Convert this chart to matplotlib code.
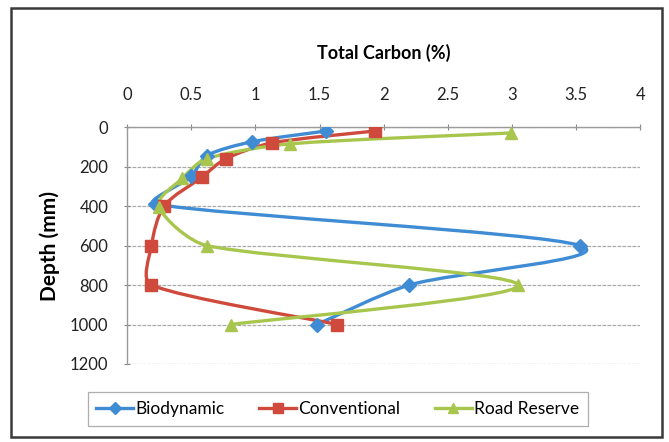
import numpy as np
import matplotlib
matplotlib.use("Agg")
import matplotlib.pyplot as plt
from matplotlib.path import Path
from matplotlib.patches import PathPatch, Rectangle
from matplotlib.lines import Line2D

plt.rcParams['font.family'] = ['Lato', 'DejaVu Sans']

# data: total carbon (%) against depth (mm)
bio_carbon = [1.55, 0.97, 0.62, 0.50, 0.22, 3.53, 2.20, 1.48]
bio_depth = [20, 75, 145, 250, 390, 600, 800, 1000]
conv_carbon = [1.93, 1.13, 0.77, 0.58, 0.29, 0.19, 0.19, 1.64]
conv_depth = [20, 80, 160, 255, 400, 600, 800, 1000]
road_carbon = [2.99, 1.27, 0.62, 0.43, 0.25, 0.62, 3.05, 0.81]
road_depth = [30, 85, 160, 260, 405, 600, 800, 1000]

series_names = ['Biodynamic', 'Conventional', 'Road Reserve']
x_ticks = [0, 0.5, 1, 1.5, 2, 2.5, 3, 3.5, 4]
y_ticks = [0, 200, 400, 600, 800, 1000, 1200]

colors = ['#3F8CD4', '#CF4A3C', '#A8C64E']
markers = ['D', 's', '^']
msizes = [7.5, 9, 9]


def smooth_path(xs, ys, sx=128.0, sy=0.1975, k=0.3):
    # Excel style smoothed line: Catmull-Rom Bezier segments, with the control
    # arms clipped to a share of the segment length (screen-like units)
    pts = np.column_stack([np.asarray(xs) * sx, np.asarray(ys) * sy])
    n = len(pts)
    verts = [pts[0]]
    codes = [Path.MOVETO]

    def arm(i, L):
        a = pts[max(i - 1, 0)]
        b = pts[min(i + 1, n - 1)]
        v = (b - a) / 6.0
        ln = np.hypot(*v)
        if ln > k * L:
            v = v * (k * L / ln)
        return v

    for i in range(n - 1):
        p1, p2 = pts[i], pts[i + 1]
        L = np.hypot(*(p2 - p1))
        verts += [p1 + arm(i, L), p2 - arm(i + 1, L), p2]
        codes += [Path.CURVE4] * 3
    verts = np.array(verts) / [sx, sy]
    return Path(verts, codes)


fig = plt.figure(figsize=(6.69, 4.42), dpi=100)
ax = fig.add_axes([0.190, 0.1765, 0.767, 0.536])

data = [(bio_carbon, bio_depth), (conv_carbon, conv_depth), (road_carbon, road_depth)]
handles = []
for (xs, ys), c, m, ms, name in zip(data, colors, markers, msizes, series_names):
    ax.add_patch(PathPatch(smooth_path(xs, ys), facecolor='none', edgecolor=c,
                           lw=2.4, capstyle='round', joinstyle='round', zorder=3))
    ax.plot(xs, ys, linestyle='none', marker=m, markersize=ms, color=c, zorder=4)
    handles.append(Line2D([], [], color=c, lw=2.4, marker=m, markersize=ms * 0.8, label=name))

ax.set_xlim(0, 4)
ax.set_ylim(1200, 0)
ax.xaxis.tick_top()
ax.set_xticks(x_ticks)
ax.set_xticklabels(['0', '0.5', '1', '1.5', '2', '2.5', '3', '3.5', '4'])
ax.set_yticks(y_ticks)
ax.tick_params(axis='x', direction='inout', length=5, color='#888888', labelsize=12,
               labelcolor='#222222', pad=15)
ax.tick_params(axis='y', direction='inout', length=5, color='#888888', labelsize=12,
               labelcolor='#222222', pad=11)

for s in ['right', 'bottom']:
    ax.spines[s].set_visible(False)
for s in ['top', 'left']:
    ax.spines[s].set_color('#9a9a9a')
    ax.spines[s].set_linewidth(1.0)

ax.grid(True, axis='y', color='#a8a8a8', lw=0.9, linestyle=(0, (3, 1)))
ax.set_axisbelow(True)

ax.set_xlabel('Total Carbon (%)', fontsize=13, fontweight='bold', labelpad=20)
ax.xaxis.set_label_position('top')
ax.set_ylabel('Depth (mm)', fontsize=15, fontweight='bold', labelpad=7)

leg = fig.legend(handles=handles, loc='center', bbox_to_anchor=(0.505, 0.075), ncol=3,
                 fontsize=12.5, frameon=True, fancybox=False, handlelength=2.1,
                 columnspacing=2.0, handletextpad=0.15, borderpad=0.5)
leg.get_frame().set_edgecolor('#9a9a9a')
leg.get_frame().set_linewidth(0.9)

# outer chart border
fig.patches.append(Rectangle((0.016, 0.011), 0.974, 0.971, transform=fig.transFigure,
                             fill=False, edgecolor='#3a3a3a', lw=1.8))

plt.savefig('out.png', dpi=100)
